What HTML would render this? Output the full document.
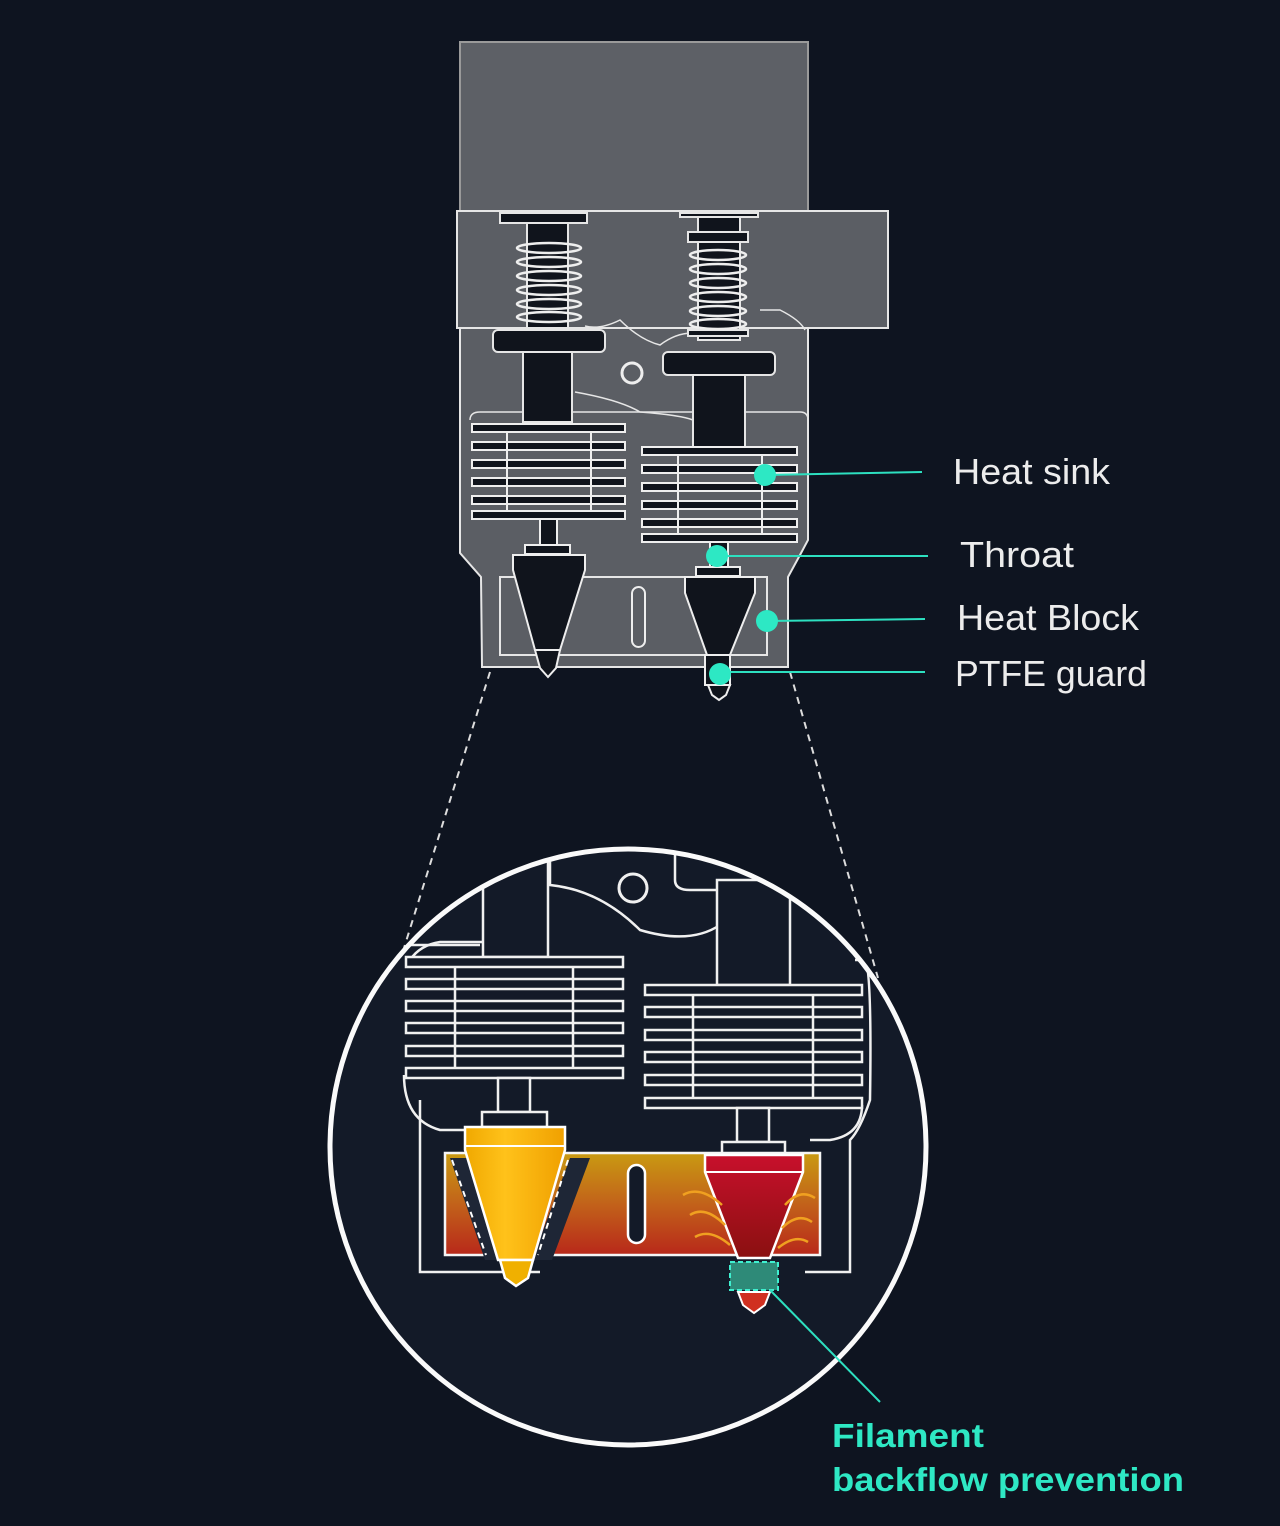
<!DOCTYPE html>
<html><head><meta charset="utf-8"><style>
html,body{margin:0;padding:0;background:#0e1420;}
svg{display:block}
</style></head><body>
<svg width="1280" height="1526" viewBox="0 0 1280 1526" xmlns="http://www.w3.org/2000/svg" font-family="'Liberation Sans','DejaVu Sans',sans-serif">
<defs>
<linearGradient id="hb" x1="0" y1="0" x2="0" y2="1">
<stop offset="0" stop-color="#c99a12"/><stop offset="0.5" stop-color="#c2621a"/><stop offset="1" stop-color="#b8281a"/></linearGradient>
<linearGradient id="yl" x1="0" y1="0" x2="1" y2="0">
<stop offset="0" stop-color="#f0a800"/><stop offset="0.4" stop-color="#ffc21a"/><stop offset="1" stop-color="#f0a000"/></linearGradient>
<linearGradient id="rd" x1="0" y1="0" x2="0" y2="1">
<stop offset="0" stop-color="#c8102c"/><stop offset="1" stop-color="#8a1010"/></linearGradient>
<clipPath id="cc"><circle cx="628" cy="1147" r="296"/></clipPath>
</defs>
<rect width="1280" height="1526" fill="#0e1420"/>

<line x1="490" y1="672" x2="404" y2="948" stroke="#ddd" stroke-width="2" stroke-dasharray="7,6"/>
<line x1="790" y1="672" x2="878" y2="978" stroke="#ddd" stroke-width="2" stroke-dasharray="7,6"/>

<g stroke="#e6e6e6" stroke-width="2" fill="#5b5e64">
<rect x="460" y="42" width="348" height="170" fill="#5d6066" stroke="#9a9a9a"/>
<path d="M460 328 L460 553 L481 577 L482 667 L788 667 L788 577 L800 555 L808 540 L808 328 Z"/>
<rect x="457" y="211" width="431" height="117"/>
<rect x="500" y="577" width="267" height="78" fill="none"/>
<path d="M470 420 Q470 412 480 412 L800 412 Q808 412 808 420 L808 540" fill="none" stroke-width="1.5"/>
<path d="M585 326 Q600 330 620 320 Q640 340 660 345 Q680 330 700 334" fill="none" stroke-width="1.5"/>
<path d="M760 310 L780 310 Q800 320 805 330" fill="none" stroke-width="1.5"/>
<path d="M575 392 Q620 400 640 412 Q680 415 693 420" fill="none" stroke-width="1.5"/>
</g>
<circle cx="632" cy="373" r="10" fill="none" stroke="#eee" stroke-width="3"/>
<rect x="632" y="587" width="13" height="60" rx="6.5" fill="none" stroke="#eee" stroke-width="2"/>

<g stroke="#e6e6e6" stroke-width="2" fill="#10141c">
<rect x="500" y="213" width="87" height="10" fill="#10141c"/>
<rect x="527" y="223" width="41" height="105"/>
<rect x="493" y="330" width="112" height="22" rx="5"/>
<rect x="523" y="352" width="49" height="70"/>
</g>
<g fill="none" stroke="#eee" stroke-width="2.5">
<ellipse cx="549" cy="248" rx="32" ry="5"/><ellipse cx="549" cy="262" rx="32" ry="5"/><ellipse cx="549" cy="276" rx="32" ry="5"/><ellipse cx="549" cy="290" rx="32" ry="5"/><ellipse cx="549" cy="304" rx="32" ry="5"/><ellipse cx="549" cy="317" rx="32" ry="5"/>
</g>
<g stroke="#eee" stroke-width="2" fill="#10141c">
<rect x="472" y="424" width="153" height="8"/><rect x="472" y="442" width="153" height="8"/><rect x="472" y="460" width="153" height="8"/><rect x="472" y="478" width="153" height="8"/><rect x="472" y="496" width="153" height="8"/><rect x="472" y="511" width="153" height="8"/>
<line x1="507" y1="432" x2="507" y2="511"/><line x1="591" y1="432" x2="591" y2="511"/>
<rect x="540" y="519" width="17" height="26"/>
<rect x="525" y="545" width="45" height="9"/>
<path d="M513 555 L585 555 L585 570 L560 650 L535 650 L513 570 Z"/>
<path d="M535 650 L560 650 L556 668 L548 677 L540 668 Z"/>
</g>
<g stroke="#e6e6e6" stroke-width="2" fill="#10141c">
<rect x="680" y="213" width="78" height="4"/>
<rect x="698" y="217" width="42" height="123"/>
<rect x="688" y="232" width="60" height="10"/>
<rect x="688" y="330" width="60" height="6"/>
<rect x="663" y="352" width="112" height="23" rx="5"/>
<rect x="693" y="375" width="52" height="72"/>
</g>
<g fill="none" stroke="#eee" stroke-width="2.5">
<ellipse cx="718" cy="255" rx="28" ry="5"/><ellipse cx="718" cy="269" rx="28" ry="5"/><ellipse cx="718" cy="283" rx="28" ry="5"/><ellipse cx="718" cy="297" rx="28" ry="5"/><ellipse cx="718" cy="311" rx="28" ry="5"/><ellipse cx="718" cy="324" rx="28" ry="5"/>
</g>
<g stroke="#eee" stroke-width="2" fill="#10141c">
<rect x="642" y="447" width="155" height="8"/><rect x="642" y="465" width="155" height="8"/><rect x="642" y="483" width="155" height="8"/><rect x="642" y="501" width="155" height="8"/><rect x="642" y="519" width="155" height="8"/><rect x="642" y="534" width="155" height="8"/>
<line x1="678" y1="455" x2="678" y2="534"/><line x1="762" y1="455" x2="762" y2="534"/>
<rect x="710" y="542" width="18" height="25"/>
<rect x="696" y="567" width="44" height="9"/>
<path d="M685 577 L755 577 L755 593 L730 655 L707 655 L685 593 Z"/>
<rect x="705" y="655" width="25" height="30"/>
<path d="M708 685 L730 685 L726 695 L719 700 L712 695 Z"/>
</g>

<g stroke="#2de0c0" stroke-width="2">
<line x1="765" y1="475" x2="922" y2="472"/>
<line x1="717" y1="556" x2="928" y2="556"/>
<line x1="767" y1="621" x2="925" y2="619"/>
<line x1="720" y1="672" x2="925" y2="672"/>
</g>
<g fill="#2de8c4">
<circle cx="765" cy="475" r="11"/><circle cx="717" cy="556" r="11"/><circle cx="767" cy="621" r="11"/><circle cx="720" cy="674" r="11"/>
</g>
<g fill="#ececec" font-size="36">
<text x="953" y="484" textLength="157" lengthAdjust="spacingAndGlyphs">Heat sink</text>
<text x="960" y="567" textLength="114" lengthAdjust="spacingAndGlyphs">Throat</text>
<text x="957" y="630" textLength="182" lengthAdjust="spacingAndGlyphs">Heat Block</text>
<text x="955" y="686" textLength="192" lengthAdjust="spacingAndGlyphs">PTFE guard</text>
</g>

<circle cx="628" cy="1147" r="298" fill="#131a28"/>
<g clip-path="url(#cc)" stroke="#f0f0f0" stroke-width="2.5" fill="none">
<path d="M550 850 L550 885 Q600 890 640 930 Q690 945 720 925"/>
<path d="M675 850 L675 880 Q675 890 690 890 L900 890"/>
<path d="M330 965 L400 945 L480 945"/>
<path d="M420 1100 L420 1272 L540 1272"/>
<path d="M410 960 Q420 945 440 942 L483 942"/>
<path d="M855 960 L865 960 Q872 970 870 1100 Q860 1130 850 1140 L850 1272 L805 1272"/>
<rect x="483" y="860" width="65" height="97" fill="#131a28"/>
<rect x="717" y="880" width="73" height="105" fill="#131a28"/>
<path d="M404 1075 Q404 1120 440 1130 L470 1130"/>
<path d="M862 1105 Q862 1135 830 1140 L810 1140"/>
</g>
<circle cx="633" cy="888" r="14" fill="none" stroke="#f0f0f0" stroke-width="3"/>
<g stroke="#f0f0f0" stroke-width="2.5" fill="#131a28">
<rect x="406" y="957" width="217" height="10"/><rect x="406" y="979" width="217" height="10"/><rect x="406" y="1001" width="217" height="10"/><rect x="406" y="1023" width="217" height="10"/><rect x="406" y="1046" width="217" height="10"/><rect x="406" y="1068" width="217" height="10"/>
<line x1="455" y1="967" x2="455" y2="1068"/><line x1="573" y1="967" x2="573" y2="1068"/>
<rect x="645" y="985" width="217" height="10"/><rect x="645" y="1007" width="217" height="10"/><rect x="645" y="1030" width="217" height="10"/><rect x="645" y="1052" width="217" height="10"/><rect x="645" y="1075" width="217" height="10"/><rect x="645" y="1098" width="217" height="10"/>
<line x1="693" y1="995" x2="693" y2="1098"/><line x1="813" y1="995" x2="813" y2="1098"/>
<rect x="498" y="1078" width="32" height="34"/>
<rect x="737" y="1108" width="32" height="34"/>
<rect x="482" y="1112" width="65" height="15"/>
<rect x="722" y="1142" width="63" height="12"/>
</g>
<rect x="445" y="1153" width="375" height="102" fill="url(#hb)" stroke="#f5f5f5" stroke-width="2.5"/>
<rect x="628" y="1165" width="17" height="78" rx="8.5" fill="#131a28" stroke="#fff" stroke-width="2.5"/>
<path d="M450 1158 L470 1158 L505 1260 L485 1260 Z" fill="#1e2636"/>
<path d="M570 1158 L590 1158 L552 1260 L532 1260 Z" fill="#1e2636"/>
<path d="M465 1127 L565 1127 L565 1150 L533 1260 L498 1260 L465 1150 Z" fill="url(#yl)" stroke="#fff" stroke-width="2.5"/>
<line x1="465" y1="1146" x2="565" y2="1146" stroke="#fff" stroke-width="2"/>
<path d="M500 1260 L533 1260 L528 1278 L516 1286 L505 1278 Z" fill="#f0b000" stroke="#fff" stroke-width="2.5"/>
<path d="M452 1160 L486 1255 M568 1160 L538 1255" stroke="#fff" stroke-width="2" stroke-dasharray="6,5"/>
<path d="M705 1155 L803 1155 L803 1172 L770 1258 L738 1258 L705 1172 Z" fill="url(#rd)" stroke="#fff" stroke-width="2.5"/>
<line x1="705" y1="1172" x2="803" y2="1172" stroke="#fff" stroke-width="2"/>
<g fill="none" stroke="#f0a020" stroke-width="2.5">
<path d="M683 1195 Q700 1185 722 1205"/><path d="M690 1215 Q705 1205 725 1225"/><path d="M695 1237 Q710 1228 730 1245"/>
<path d="M815 1198 Q800 1188 785 1205"/><path d="M812 1222 Q798 1212 782 1228"/><path d="M808 1242 Q795 1234 778 1248"/>
</g>
<rect x="730" y="1262" width="48" height="28" fill="#2e8a78" stroke="#3ff0d0" stroke-width="2" stroke-dasharray="5,3"/>
<path d="M738 1292 L770 1292 L765 1305 L754 1313 L743 1305 Z" fill="#d03020" stroke="#fff" stroke-width="2"/>
<circle cx="628" cy="1147" r="298" fill="none" stroke="#fafafa" stroke-width="5"/>
<line x1="770" y1="1290" x2="880" y2="1402" stroke="#2de0c0" stroke-width="2"/>
<g fill="#2ee8c4" font-size="33" font-weight="bold">
<text x="832" y="1447" textLength="152" lengthAdjust="spacingAndGlyphs">Filament</text>
<text x="832" y="1491" textLength="352" lengthAdjust="spacingAndGlyphs">backflow prevention</text>
</g>
</svg>
</body></html>
